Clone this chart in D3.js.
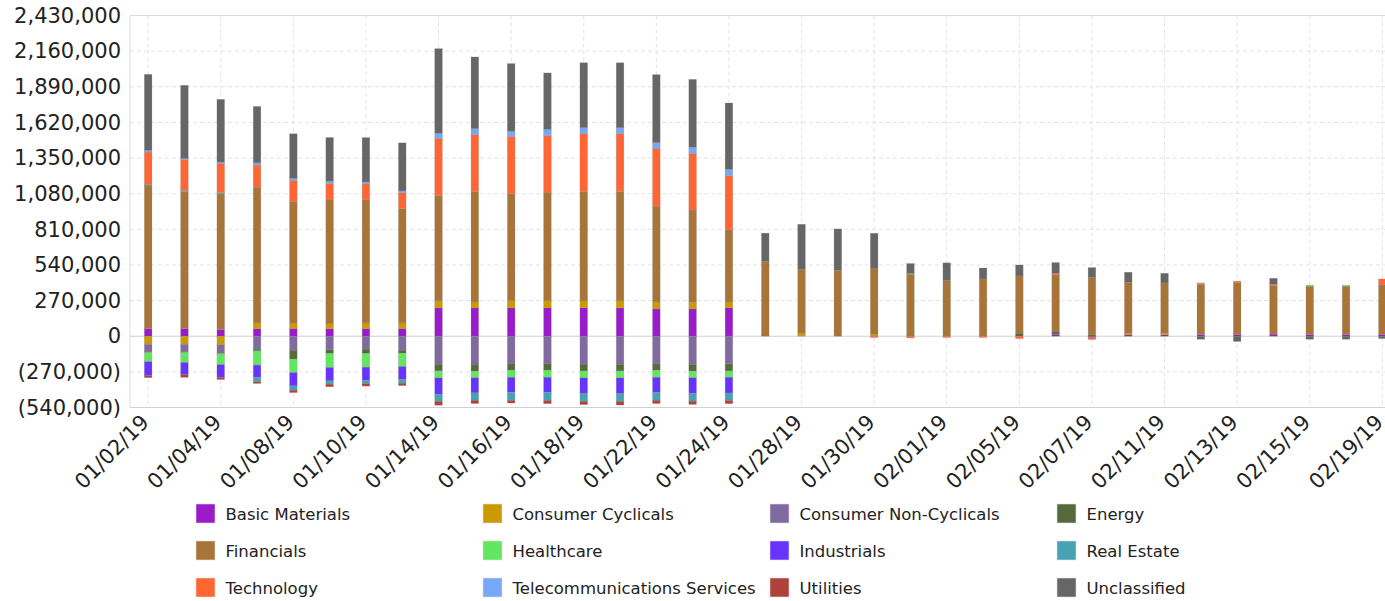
<!DOCTYPE html>
<html>
<head>
<meta charset="utf-8">
<script src="https://cdn.jsdelivr.net/npm/d3@7"></script>
<style>
  body { margin: 0; background: #fff; }
  svg text { font-family: "DejaVu Sans", sans-serif; fill: #222; }
</style>
</head>
<body>
<div id="grafico"></div>
<script>
const datas = ["01/02/19","01/03/19","01/04/19","01/07/19","01/08/19","01/09/19","01/10/19","01/11/19",
  "01/14/19","01/15/19","01/16/19","01/17/19","01/18/19","01/21/19","01/22/19","01/23/19","01/24/19",
  "01/25/19","01/28/19","01/29/19","01/30/19","01/31/19","02/01/19","02/04/19","02/05/19","02/06/19",
  "02/07/19","02/08/19","02/11/19","02/12/19","02/13/19","02/14/19","02/15/19","02/18/19","02/19/19"];

const setores = ["Basic Materials","Consumer Cyclicals","Consumer Non-Cyclicals","Energy","Financials",
  "Healthcare","Industrials","Real Estate","Technology","Telecommunications Services","Utilities","Unclassified"];

const cores = ["#9a1bc9","#cc9900","#806a9f","#566b3c","#a97438","#63e65f","#6633ff","#47a2b4",
  "#ff6633","#77a8f7","#b0403a","#666666"];

const yTicks = [-540000,-270000,0,270000,540000,810000,1080000,1350000,1620000,1890000,2160000,2430000];

const basicMaterials = [58000,58000,50000,58000,58000,56000,58000,58000,215000,215000,215000,215000,215000,215000,207000,207000,215000,0,0,0,0,0,0,0,0,13000,-10000,10000,10000,13000,13000,15000,13000,13000,13000];
const consumerCyclicals = [-61000,-61000,-66000,43000,38000,38000,43000,43000,53000,45000,53000,53000,53000,53000,53000,50000,45000,0,20000,0,15000,0,0,0,0,0,0,13000,13000,0,0,0,0,0,0];
const consumerNonCyclicals = [-58000,-58000,-61000,-98000,-106000,-101000,-98000,-106000,-212000,-212000,-210000,-210000,-212000,-212000,-210000,-212000,-207000,0,0,0,0,0,0,0,0,0,0,0,0,0,0,0,0,0,0];
const energy = [-4000,-4000,-5000,-13000,-68000,-30000,-33000,-23000,-51000,-53000,-48000,-48000,-51000,-51000,-48000,-53000,-56000,0,0,0,0,0,0,0,23000,25000,10000,0,0,0,0,0,0,0,0];
const financials = [1080000,1038000,1032000,1028000,926000,944000,934000,866000,798000,836000,813000,823000,828000,828000,725000,699000,548000,566000,487000,500000,502000,470000,422000,434000,434000,429000,434000,384000,381000,381000,394000,369000,366000,366000,376000];
const healthcare = [-70000,-76000,-83000,-108000,-101000,-106000,-104000,-101000,-53000,-50000,-53000,-53000,-53000,-53000,-53000,-50000,-48000,0,0,0,0,5000,0,0,0,0,0,0,0,5000,0,0,8000,8000,0];
const industrials = [-106000,-93000,-98000,-93000,-101000,-101000,-98000,-98000,-124000,-114000,-114000,-114000,-119000,-119000,-116000,-119000,-119000,0,0,0,0,0,0,0,0,0,0,0,0,0,0,0,0,0,0];
const realEstate = [10000,7000,8000,-33000,-33000,-25000,-25000,-28000,-53000,-56000,-61000,-61000,-58000,-58000,-58000,-58000,-56000,0,0,0,0,0,0,0,0,0,0,0,0,0,0,0,0,0,0];
const technology = [247000,235000,220000,167000,159000,119000,119000,119000,432000,432000,432000,429000,439000,439000,437000,429000,409000,0,0,0,-10000,-13000,-10000,-10000,-18000,10000,-15000,0,0,5000,10000,10000,0,0,45000];
const telecom = [13000,8000,10000,18000,15000,18000,15000,15000,40000,45000,40000,48000,45000,45000,45000,48000,48000,0,0,0,0,0,0,0,0,0,0,0,0,0,0,0,0,0,0];
const utilities = [-15000,-20000,-15000,-13000,-18000,-20000,-20000,-18000,-30000,-25000,-20000,-25000,-25000,-28000,-25000,-25000,-25000,0,0,0,0,0,0,0,0,0,0,0,0,0,0,0,0,0,0];
const unclassified = [576000,555000,475000,427000,338000,331000,336000,364000,641000,543000,513000,427000,492000,492000,515000,513000,502000,215000,341000,313000,263000,76000,134000,83000,83000,81000,76000,78000,73000,-23000,-40000,45000,-23000,-23000,-18000];

const valores = [basicMaterials, consumerCyclicals, consumerNonCyclicals, energy, financials, healthcare,
  industrials, realEstate, technology, telecom, utilities, unclassified];

const tabela = datas.map((d, i) => {
  const linha = { data: d };
  setores.forEach((s, j) => { linha[s] = valores[j][i]; });
  return linha;
});

const width = 1385, height = 601;
const esq = 130, topo = 15.5, base = 407.5;
const passo = 36.3;

const svg = d3.select("#grafico").append("svg")
  .attr("width", width).attr("height", height);

const x = d3.scaleBand()
  .domain(datas)
  .range([esq, esq + passo * datas.length])
  .paddingInner(0.79)
  .paddingOuter(0.395);

const y = d3.scaleLinear().domain([-540000, 2430000]).range([base, topo]);

const fmt = d3.format(",");
const fmtY = v => v < 0 ? `(${fmt(-v)})` : fmt(v);

// grade
svg.append("g").selectAll("line")
  .data(yTicks.filter(v => v !== 0 && v !== -540000 && v !== 2430000))
  .enter().append("line")
  .attr("x1", esq).attr("x2", width)
  .attr("y1", d => y(d)).attr("y2", d => y(d))
  .attr("stroke", "#e2e2e2").attr("stroke-dasharray", "4,3");

const datasRotulo = datas.filter((d, i) => i % 2 === 0);
svg.append("g").selectAll("line")
  .data(datasRotulo)
  .enter().append("line")
  .attr("x1", d => x(d) + x.bandwidth() / 2).attr("x2", d => x(d) + x.bandwidth() / 2)
  .attr("y1", topo).attr("y2", base)
  .attr("stroke", "#e2e2e2").attr("stroke-dasharray", "4,3");

// bordas
svg.append("line").attr("x1", esq).attr("x2", width).attr("y1", topo).attr("y2", topo).attr("stroke", "#dcdcdc");
svg.append("line").attr("x1", esq).attr("x2", esq).attr("y1", topo).attr("y2", base).attr("stroke", "#dcdcdc");
svg.append("line").attr("x1", esq).attr("x2", width).attr("y1", base).attr("y2", base).attr("stroke", "#d0d0d0");
svg.append("line").attr("x1", esq).attr("x2", width).attr("y1", y(0)).attr("y2", y(0)).attr("stroke", "#d0d0d0");

// barras
const series = d3.stack().keys(setores).offset(d3.stackOffsetDiverging)(tabela);

svg.append("g").selectAll("g")
  .data(series)
  .enter().append("g")
  .attr("fill", (d, i) => cores[i])
  .selectAll("rect")
  .data(d => d.filter(p => p[1] !== p[0]))
  .enter().append("rect")
  .attr("x", d => x(d.data.data))
  .attr("width", x.bandwidth())
  .attr("y", d => y(Math.max(d[0], d[1])))
  .attr("height", d => Math.abs(y(d[0]) - y(d[1])))
  .attr("stroke", "#888")
  .attr("stroke-opacity", 0.35)
  .attr("stroke-width", 0.6);

// eixo y
const eixoY = svg.append("g")
  .attr("transform", `translate(${esq},0)`)
  .call(d3.axisLeft(y).tickValues(yTicks).tickFormat(fmtY).tickSize(0).tickPadding(9));
eixoY.select(".domain").remove();
eixoY.selectAll("text").style("font-size", "21px").attr("fill", "#222");

// eixo x
const eixoX = svg.append("g")
  .attr("transform", `translate(0,${base})`)
  .call(d3.axisBottom(x).tickValues(datasRotulo).tickSize(0));
eixoX.select(".domain").remove();
eixoX.selectAll("text")
  .style("font-size", "21px")
  .attr("fill", "#222")
  .attr("text-anchor", "end")
  .attr("x", 0).attr("y", 0)
  .attr("dy", 0)
  .attr("transform", "translate(2,16) rotate(-45)");

// legenda
const legenda = svg.append("g");
setores.forEach((s, i) => {
  const col = i % 4, lin = Math.floor(i / 4);
  const gx = 196 + col * 287, gy = 504 + lin * 37;
  legenda.append("rect")
    .attr("x", gx).attr("y", gy).attr("width", 19).attr("height", 19)
    .attr("fill", cores[i]).attr("stroke", "#ddd").attr("stroke-width", 0.6);
  legenda.append("text")
    .attr("x", gx + 29.5).attr("y", gy + 15.5)
    .style("font-size", "16.5px")
    .text(s);
});
</script>
</body>
</html>
